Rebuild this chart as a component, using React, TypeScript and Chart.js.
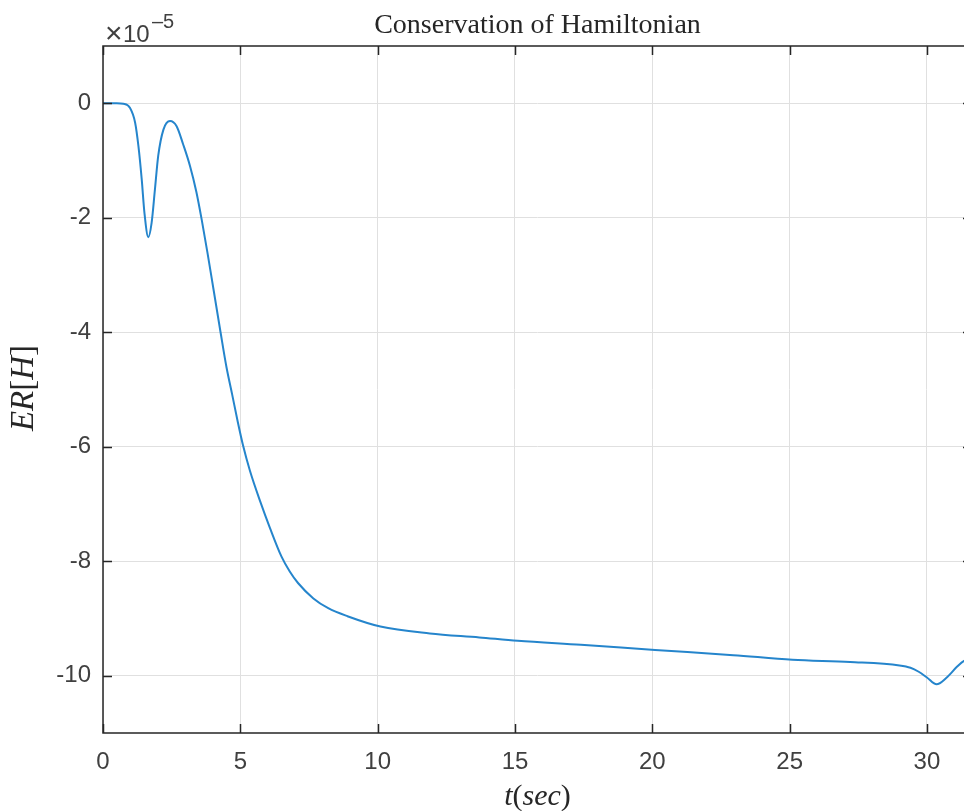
import { useEffect, useRef } from 'react';
import { Chart, registerables } from 'chart.js';

Chart.register(...registerables);

// ---- data (ER[H] in units of 1e-5) ----
const timeSec = [
  0, 0.5, 0.74, 0.98, 1.17, 1.29, 1.41, 1.51, 1.65, 1.77, 1.89, 2.01, 2.2, 2.44,
  2.68, 2.92, 3.17, 3.4, 3.6, 3.8, 4.02, 4.28, 4.5, 4.7, 4.9, 5.1, 5.35, 5.72,
  6.08, 6.5, 6.8, 7.1, 7.66, 8.2, 8.9, 10.1, 11.9, 13.7, 15.1, 17.4, 20.1, 22.95,
  25.1, 27.2, 29.0, 29.4, 29.7, 30.0, 30.35, 30.7, 31.1, 31.35, 31.64,
];
const errH = [
  0, 0, -0.01, -0.08, -0.34, -0.75, -1.33, -1.92, -2.34, -2.09, -1.51, -0.92,
  -0.46, -0.31, -0.4, -0.72, -1.1, -1.55, -2.05, -2.6, -3.24, -4.0, -4.62,
  -5.08, -5.55, -5.98, -6.42, -6.95, -7.42, -7.92, -8.18, -8.38, -8.65, -8.82,
  -8.96, -9.14, -9.26, -9.33, -9.39, -9.46, -9.55, -9.64, -9.72, -9.76, -9.82,
  -9.86, -9.93, -10.03, -10.15, -10.04, -9.84, -9.74, -9.7,
];
const xTicks = [0, 5, 10, 15, 20, 25, 30];
const yTicks = [-10, -8, -6, -4, -2, 0];
const xRange = [0, 31.64];
const yRange = [-11, 1];
const titleText = 'Conservation of Hamiltonian';
const exponentTimes = '\u00d7';
const exponentBase = '10';
const exponentPower = '\u20135';

const CANVAS_W = 980;
const CANVAS_H = 811;
const AXIS_COLOR = '#262626';
const SANS = "'Liberation Sans', Arial, sans-serif";
const SERIF = "'Liberation Serif', 'Times New Roman', serif";

function drawSegments(ctx: CanvasRenderingContext2D, segs: [string, boolean][], size: number, cx: number, cy: number) {
  const fonts = segs.map(([, it]) => `${it ? 'italic ' : ''}${size}px ${SERIF}`);
  let total = 0;
  const widths = segs.map(([t], i) => {
    ctx.font = fonts[i];
    const w = ctx.measureText(t).width;
    total += w;
    return w;
  });
  let x = cx - total / 2;
  ctx.textAlign = 'left';
  segs.forEach(([t], i) => {
    ctx.font = fonts[i];
    ctx.fillText(t, x, cy);
    x += widths[i];
  });
}

const decorPlugin = {
  id: 'matlabDecor',
  afterDatasetsDraw(chart: any) {
    const { ctx, chartArea, scales } = chart;
    const { left, right, top, bottom } = chartArea;
    const xs = scales.x;
    const ys = scales.y;
    ctx.save();
    // box
    ctx.strokeStyle = AXIS_COLOR;
    ctx.lineWidth = 1.5;
    ctx.beginPath();
    ctx.moveTo(left, top);
    ctx.lineTo(right, top);
    ctx.lineTo(right, bottom);
    ctx.lineTo(left, bottom);
    ctx.closePath();
    ctx.stroke();
    // inward ticks
    const tl = 9;
    ctx.beginPath();
    xTicks.forEach((v) => {
      const px = Math.round(xs.getPixelForValue(v)) + 0.5;
      ctx.moveTo(px, bottom);
      ctx.lineTo(px, bottom - tl);
      ctx.moveTo(px, top);
      ctx.lineTo(px, top + tl);
    });
    yTicks.forEach((v) => {
      const py = Math.round(ys.getPixelForValue(v)) + 0.5;
      ctx.moveTo(left, py);
      ctx.lineTo(left + tl, py);
      ctx.moveTo(right, py);
      ctx.lineTo(right - tl, py);
    });
    ctx.stroke();

    ctx.fillStyle = '#262626';
    ctx.textBaseline = 'alphabetic';
    // title
    ctx.font = `28px ${SERIF}`;
    ctx.textAlign = 'center';
    ctx.fillText(titleText, (left + right) / 2, 33);

    // exponent
    ctx.fillStyle = '#404040';
    ctx.textAlign = 'left';
    ctx.font = `30px ${SANS}`;
    ctx.fillText(exponentTimes, 105, 43);
    ctx.font = `24px ${SANS}`;
    ctx.fillText(exponentBase, 123, 42);
    ctx.font = `20px ${SANS}`;
    ctx.fillText(exponentPower, 152, 28);

    // x label
    ctx.fillStyle = '#262626';
    drawSegments(ctx, [['t', true], ['(', false], ['sec', true], [')', false]], 30, (left + right) / 2, 805);

    // y label
    ctx.save();
    ctx.translate(33, 388);
    ctx.rotate(-Math.PI / 2);
    drawSegments(ctx, [['ER', true], ['[', false], ['H', true], [']', false]], 33, 0, 0);
    ctx.restore();

    ctx.restore();
  },
};

export default function App() {
  const ref = useRef<HTMLCanvasElement | null>(null);
  useEffect(() => {
    if (!ref.current) return;
    const points = timeSec.map((t, i) => ({ x: t, y: errH[i] }));
    const chart = new Chart(ref.current, {
      type: 'line',
      data: {
        datasets: [
          {
            data: points,
            borderColor: '#2585cc',
            borderWidth: 2,
            pointRadius: 0,
            fill: false,
            cubicInterpolationMode: 'monotone',
          },
        ],
      },
      options: {
        animation: false,
        responsive: false,
        devicePixelRatio: 1,
        layout: { padding: { top: 46, right: CANVAS_W - 972, left: 0, bottom: 0 } },
        plugins: { legend: { display: false }, title: { display: false }, tooltip: { enabled: false } },
        scales: {
          x: {
            type: 'linear',
            min: xRange[0],
            max: xRange[1],
            afterBuildTicks: (s: any) => {
              s.ticks = xTicks.map((v) => ({ value: v }));
            },
            afterFit: (s: any) => {
              s.height = 78;
            },
            grid: { color: '#e0e0e0', lineWidth: 1, drawTicks: false },
            border: { display: false },
            ticks: {
              autoSkip: false,
              maxRotation: 0,
              padding: 15,
              color: '#404040',
              font: { family: SANS, size: 24 },
            },
          },
          y: {
            type: 'linear',
            min: yRange[0],
            max: yRange[1],
            afterBuildTicks: (s: any) => {
              s.ticks = yTicks.map((v) => ({ value: v }));
            },
            afterFit: (s: any) => {
              s.width = 103;
            },
            grid: { color: '#e0e0e0', lineWidth: 1, drawTicks: false },
            border: { display: false },
            ticks: {
              autoSkip: false,
              padding: 12,
              color: '#404040',
              font: { family: SANS, size: 24 },
            },
          },
        },
      },
      plugins: [decorPlugin],
    });
    return () => chart.destroy();
  }, []);
  return (
    <div style={{ position: 'absolute', left: 0, top: 0, width: 964, height: 811, overflow: 'hidden', background: '#fff' }}>
      <canvas ref={ref} width={CANVAS_W} height={CANVAS_H} style={{ display: 'block' }} />
    </div>
  );
}
